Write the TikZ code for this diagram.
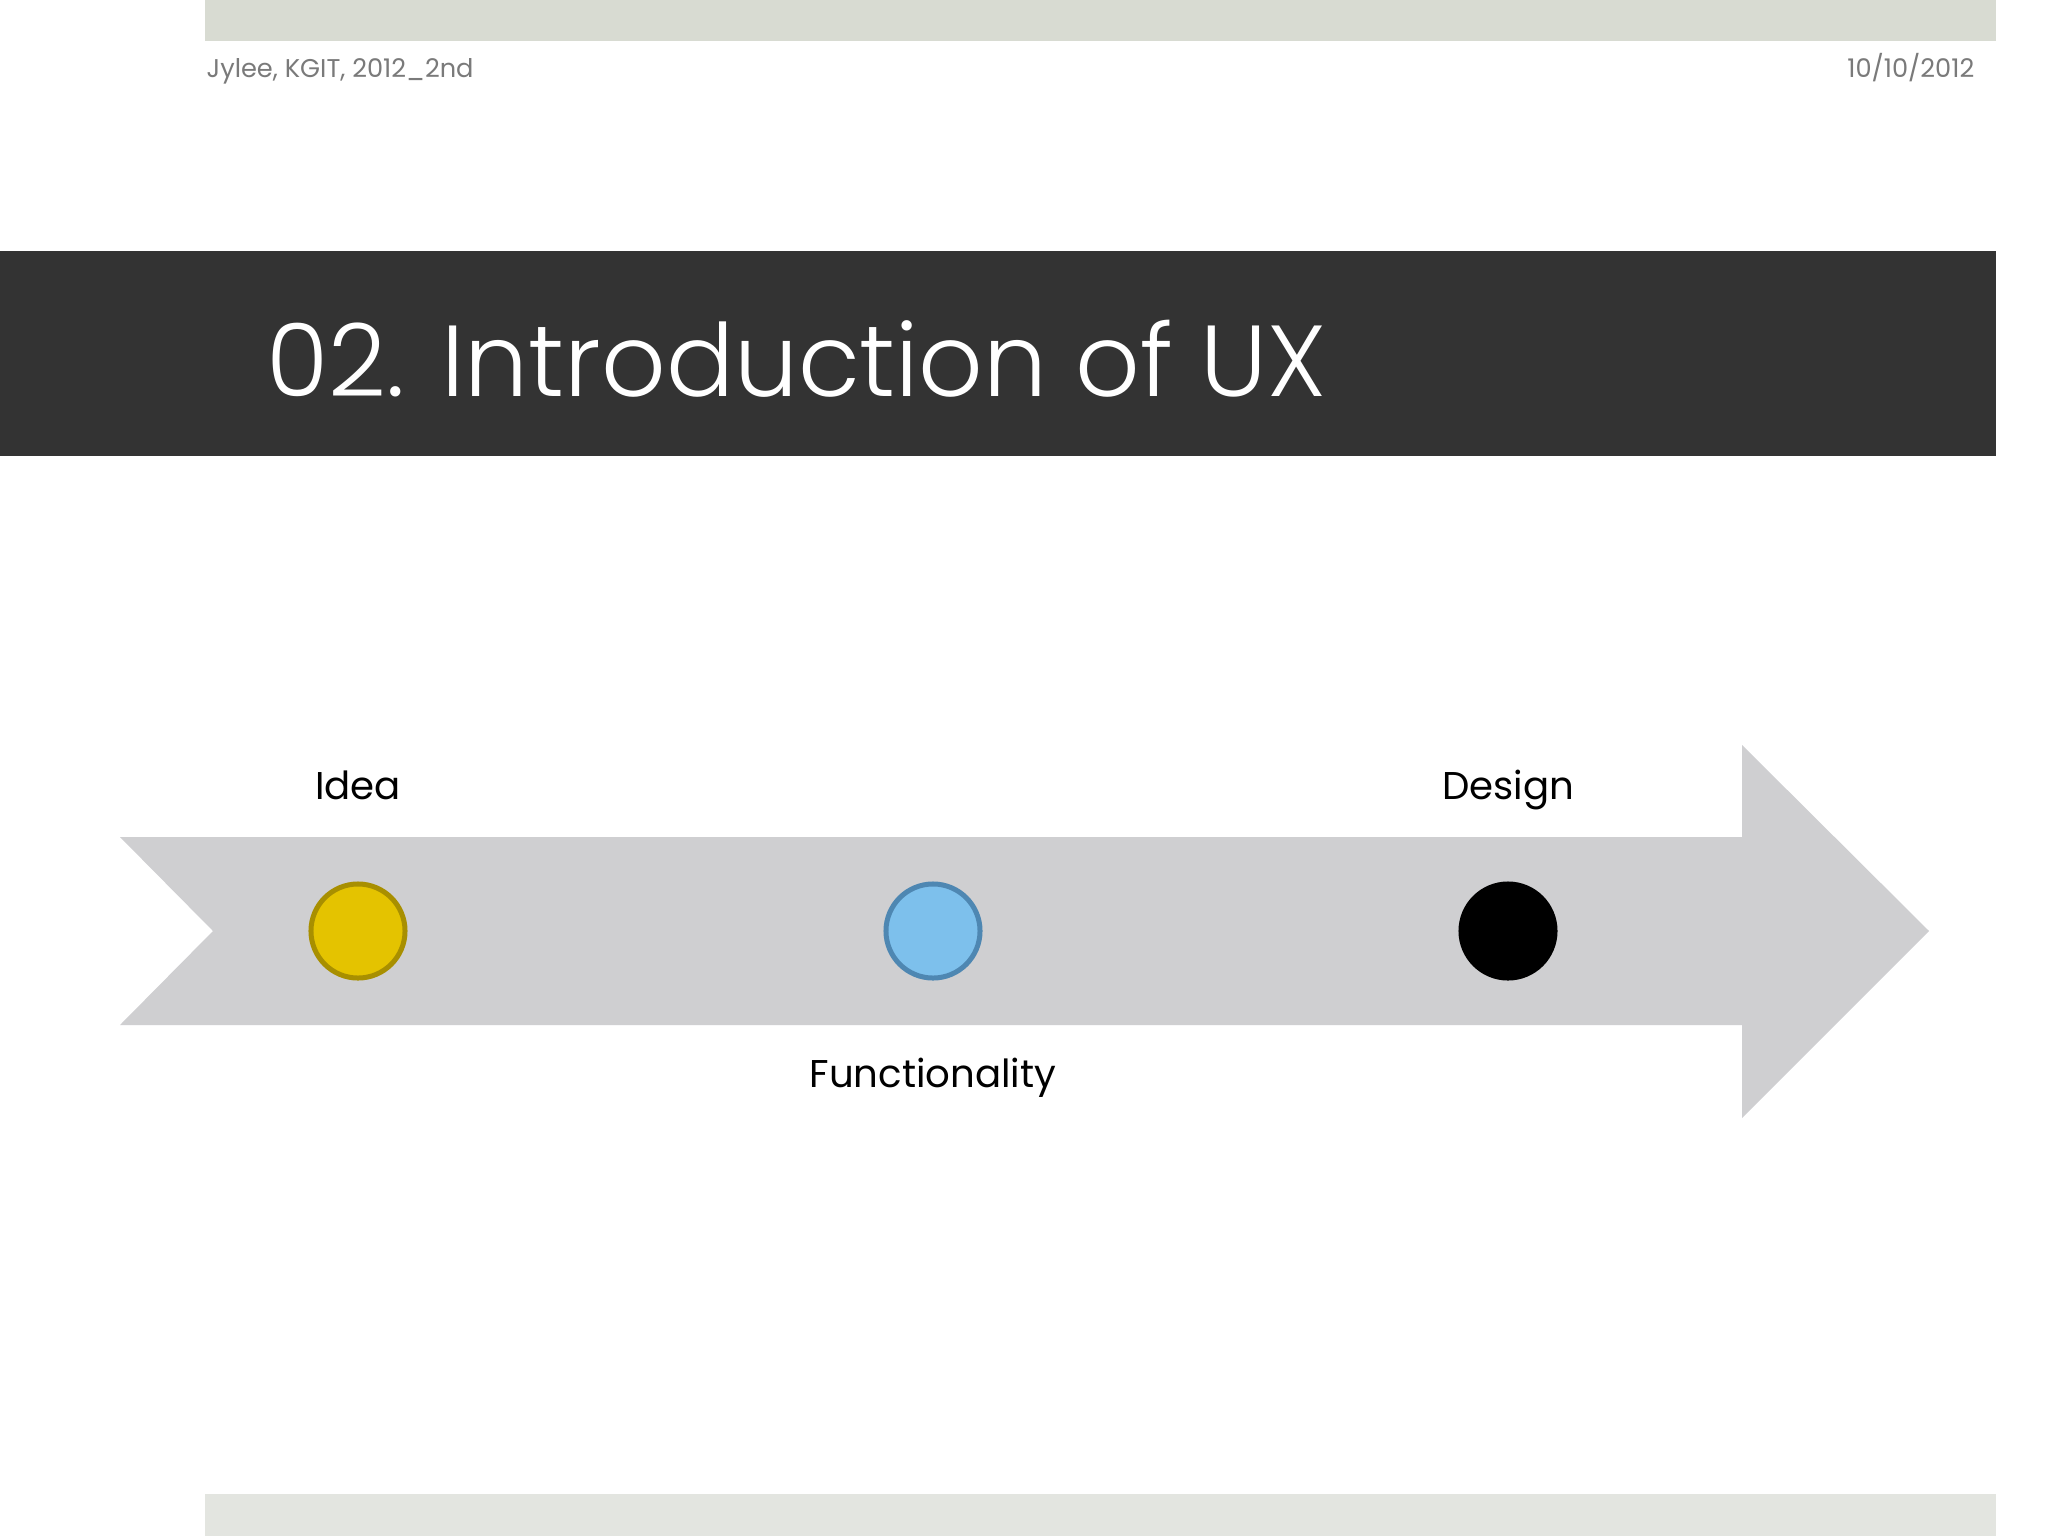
\documentclass[tikz,border=0pt]{standalone}
\usepackage{fontspec}
\setmainfont{Poppins}
\newfontfamily\thinfont{Poppins Light}
\usetikzlibrary{positioning,calc}
\definecolor{topbar}{HTML}{D8DBD2}
\definecolor{botbar}{HTML}{E3E5E0}
\definecolor{band}{HTML}{333333}
\definecolor{hdrgray}{HTML}{7A7A7A}
\definecolor{arrowgray}{HTML}{CFCFD1}
\definecolor{ideafill}{HTML}{E4C300}
\definecolor{ideaedge}{HTML}{A88F00}
\definecolor{funcfill}{HTML}{7DC0EC}
\definecolor{funcedge}{HTML}{4E87B2}

\begin{document}
\begin{tikzpicture}[x=0.01cm,y=-0.01cm,
		dot/.style = {circle, minimum size=0.94cm, inner sep=0pt, line width=0.05cm},
		lbl/.style = {font=\fontsize{11}{13}\selectfont, text=black, inner sep=0pt},
		hdr/.style = {font=\fontsize{7.3}{9}\selectfont, text=hdrgray, inner sep=0pt}
	]
	\useasboundingbox[fill=white] (0,0) rectangle (2048,1536);
	% slide frame
	\fill[topbar] (205,0) rectangle (1996,41);
	\fill[botbar] (205,1494) rectangle (1996,1536);
	\fill[band] (0,251) rectangle (1996,456);
	\node[hdr, anchor=base west] (author) at (206,77) {Jylee, KGIT, 2012\_2nd};
	\node[hdr, anchor=base east] (date) at (1975,77) {10/10/2012};
	\node[anchor=base west, inner sep=0pt, text=white,
		font=\thinfont\fontsize{28.7}{33}\selectfont] (title) at (266,396) {02. Introduction of UX};
	% process arrow
	\fill[arrowgray] (120,837) -- (1742,837) -- (1742,745) -- (1929,931)
		-- (1742,1118) -- (1742,1025) -- (120,1025) -- (213,931) -- cycle;
	\node[dot, fill=ideafill, draw=ideaedge] (idea) at (358,931) {};
	\node[dot, fill=funcfill, draw=funcedge] (func) at (933,931) {};
	\node[dot, fill=black, draw=black] (design) at (1508,931) {};
	\node[lbl, anchor=base] (ideatxt) at ([yshift=1.31cm]idea.center) {Idea};
	\node[lbl, anchor=base] (designtxt) at ([yshift=1.31cm]design.center) {Design};
	\node[lbl, anchor=base] (functxt) at ([yshift=-1.56cm]func.center) {Functionality};
\end{tikzpicture}
\end{document}
